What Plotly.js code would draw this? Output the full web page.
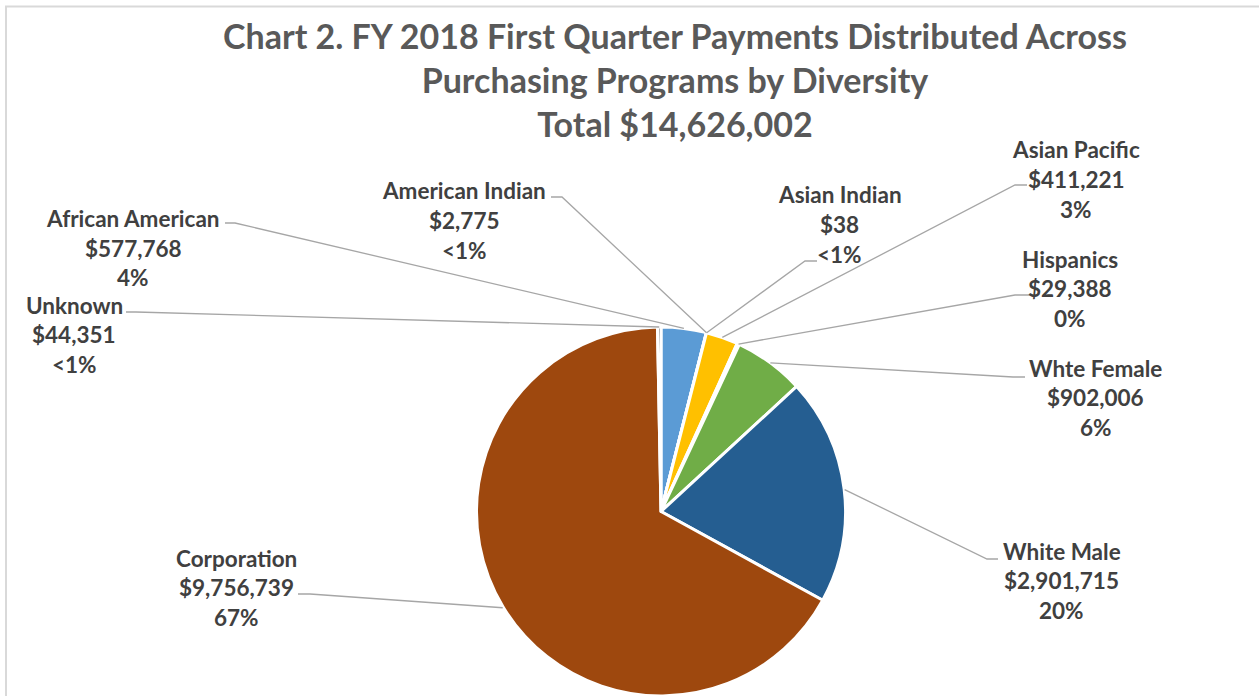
<!DOCTYPE html>
<html>
<head>
<meta charset="utf-8">
<script src="https://cdn.plot.ly/plotly-3.0.1.min.js"></script>
<style>html,body{margin:0;padding:0;background:#fff;}#chart{width:1259px;height:696px;}</style>
</head>
<body>
<div id="chart"></div>
<script>
// ---- data ----
const categories = ['African American', 'American Indian', 'Asian Indian', 'Asian Pacific', 'Hispanics', 'Whte Female', 'White Male', 'Corporation', 'Unknown'];
const amounts = [577768, 2775, 38, 411221, 29388, 902006, 2901715, 9756739, 44351];
const pctLabels = ['4%', '<1%', '<1%', '3%', '0%', '6%', '20%', '67%', '<1%'];
const titleLines = ['Chart 2. FY 2018 First Quarter Payments Distributed Across', 'Purchasing Programs by Diversity', 'Total $14,626,002'];

// ---- styling ----
const sliceColors = ['#5B9BD5', '#ED7D31', '#A5A5A5', '#FFC000', '#4472C4', '#70AD47', '#255E91', '#9E480E', '#636363'];
const W = 1259, H = 696;
const cx = 661, cy = 512, R = 185;           // pie centre / radius in px
const FONT = 'Lato, "Open Sans", sans-serif';
const labelSize = 22.5, titleSize = 34, pitch = 29.5;
// label block placement (centre x, first-line centre y) and leader start/elbow points, px
const labelPos = [[133, 218.5], [464, 191], [839.5, 195], [1076, 150], [1070, 259], [1095.5, 368], [1061.5, 551], [236.5, 558], [74, 305]];
const leaderStart = [[225, 223], [551, 197], [817, 261], [1027, 185], [1033, 295], [1025, 377], [998, 559], [298, 594], [126, 312]];
const leaderElbow = [[235, 223], [562, 197], [805, 261], [1015, 185], [1015, 295], [1013, 377], [987, 559], [310, 594], [136, 312]];

const px2x = p => p / W;
const py2y = p => 1 - p / H;

const total = amounts.reduce((a, b) => a + b, 0);
const fmt = v => '$' + v.toLocaleString('en-US');

const trace = {
  type: 'pie',
  labels: categories,
  values: amounts,
  sort: false,
  direction: 'clockwise',
  rotation: 0,
  textinfo: 'none',
  hoverinfo: 'label+value+percent',
  marker: { colors: sliceColors, line: { color: '#FFFFFF', width: 3 } },
  domain: { x: [(cx - R) / W, (cx + R) / W], y: [Math.max(0, (H - cy - R) / H), (H - cy + R) / H] }
};

const annotations = [];
const shapes = [];
let cum = 0;
categories.forEach((name, i) => {
  const mid = (cum + amounts[i] / 2) / total;
  cum += amounts[i];
  const th = 2 * Math.PI * mid;
  const tx = cx + R * Math.sin(th), ty = cy - R * Math.cos(th);
  const [sx, sy] = leaderStart[i];
  const [ex, ey] = leaderElbow[i];
  shapes.push({
    type: 'path', xref: 'paper', yref: 'paper',
    path: `M ${px2x(sx)},${py2y(sy)} L ${px2x(ex)},${py2y(ey)} L ${px2x(tx)},${py2y(ty)}`,
    line: { color: '#A6A6A6', width: 1.3 }
  });
  const lines = [name, fmt(amounts[i]), pctLabels[i]];
  const [lx, ly] = labelPos[i];
  lines.forEach((t, k) => {
    annotations.push({
      text: t, xref: 'paper', yref: 'paper', x: px2x(lx), y: py2y(ly + k * pitch),
      xanchor: 'center', yanchor: 'middle', showarrow: false,
      font: { family: FONT, size: labelSize, color: '#404040', weight: 700 }
    });
  });
});

// chart-area border (top and left edges visible)
shapes.push({ type: 'line', xref: 'paper', yref: 'paper', x0: px2x(5), x1: 1, y0: py2y(6.5), y1: py2y(6.5), line: { color: '#D9D9D9', width: 2 } });
shapes.push({ type: 'line', xref: 'paper', yref: 'paper', x0: px2x(6), x1: px2x(6), y0: py2y(6), y1: 0, line: { color: '#D9D9D9', width: 2 } });

const layout = {
  width: W, height: H,
  margin: { l: 0, r: 0, t: 0, b: 0 },
  paper_bgcolor: '#FFFFFF',
  showlegend: false,
  title: {
    text: titleLines.join('<br>'),
    x: px2x(675), xanchor: 'center', xref: 'paper',
    y: py2y(48.5), yanchor: 'middle', yref: 'container',
    font: { family: FONT, size: titleSize, color: '#595959', weight: 700 }
  },
  annotations: annotations,
  shapes: shapes
};

Plotly.newPlot('chart', [trace], layout, { displayModeBar: false, responsive: false });
</script>
</body>
</html>
